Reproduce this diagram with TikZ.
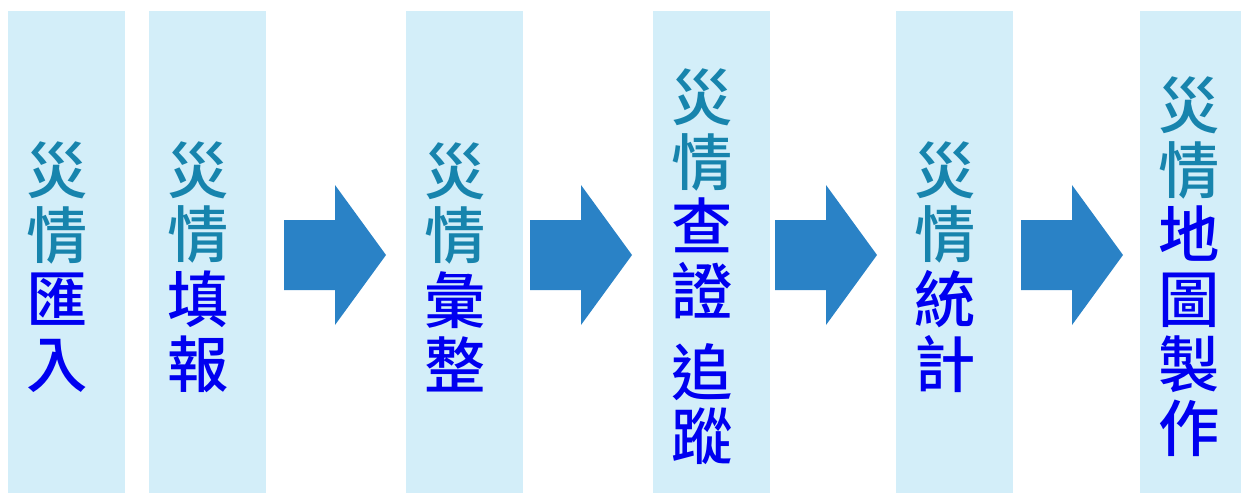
\documentclass[tikz,border=0pt]{standalone}
\usepackage{fontspec}
\newfontfamily\cjk{Noto Sans CJK TC}[UprightFont={* Medium}]
\definecolor{colfill}{HTML}{D3EEF9}
\definecolor{arrowblue}{HTML}{2A82C6}
\definecolor{teal}{HTML}{1784AD}
\definecolor{deepblue}{HTML}{0000F0}
\newcommand{\zq}{\textcolor{teal}{災}\\\textcolor{teal}{情}}
\begin{document}
\begin{tikzpicture}[x=0.75pt,y=-0.75pt,
 label/.style={align=center,inner sep=0pt,text=deepblue,
  font=\cjk\fontsize{46}{48.5}\selectfont}]
 \useasboundingbox (0,0) rectangle (1241,493);
 % columns
 \foreach \x in {8,149,406,653,896,1140}
  \fill[colfill] (\x,11) rectangle ++(117,482);
 % block arrows
 \foreach \x in {284,530,775,1021}
  \fill[arrowblue] (\x,220) -- ++(51,0) -- ++(0,-35) -- ++(51,70) -- ++(-51,70) -- ++(0,-35) -- ++(-51,0) -- cycle;
 \node[label] (t1) at (57.5,267) {\zq\\匯\\入};
 \node[label] (t2) at (198.5,267) {\zq\\填\\報};
 \node[label] (t3) at (455.5,267) {\zq\\彙\\整};
 \node[label] (t4) at (702.5,267) {\zq\\查\\證\\[12pt]追\\蹤};
 \node[label] (t5) at (945.5,267) {\zq\\統\\計};
 \node[label] (t6) at (1189.5,267) {\zq\\地\\圖\\製\\作};
\end{tikzpicture}
\end{document}
